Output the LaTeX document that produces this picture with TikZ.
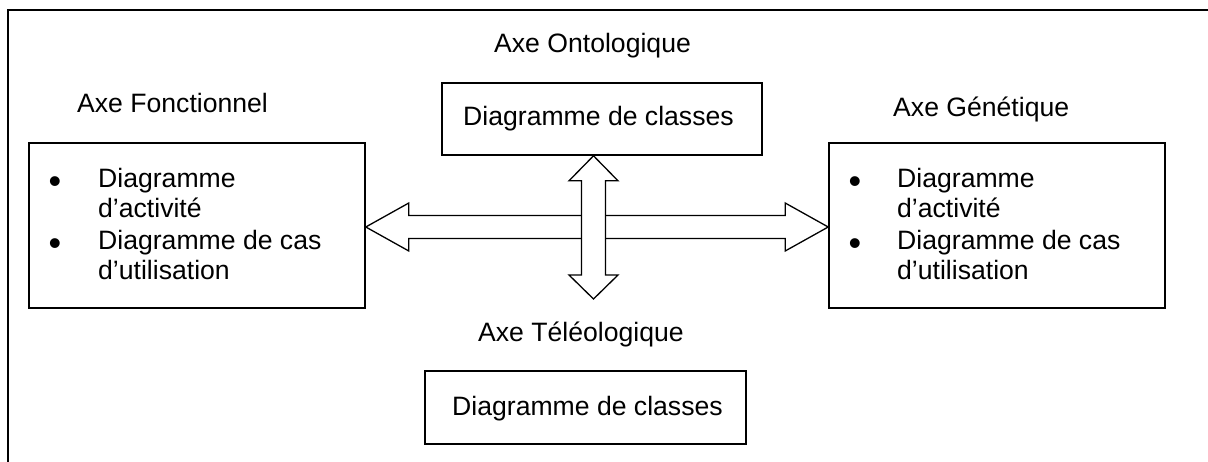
\documentclass[tikz,border=0pt]{standalone}
\usepackage{fontspec}
\setmainfont{Liberation Sans}
\usetikzlibrary{calc}
\begin{document}
\begin{tikzpicture}[x=1pt,y=-1pt,
  box/.style={draw,line width=1.6pt,rectangle,inner sep=0pt},
  txt/.style={font=\fontsize{26.6}{30}\selectfont,inner sep=0pt,anchor=base west},
  bul/.style={font=\fontsize{36}{40}\selectfont,inner sep=0pt,anchor=base},
  blockarrow/.style={draw,fill=white,line width=1.3pt,line join=miter}]
\useasboundingbox (0,0) rectangle (1208,462);
% outer frame
\draw[line width=1.3pt] (8,470) -- (8,10) -- (1215,10);
% boxes
\node[box,minimum width=336pt,minimum height=165pt] (L) at (197,225.5) {};
\node[box,minimum width=336pt,minimum height=165pt] (R) at (997,225.5) {};
\node[box,minimum width=320pt,minimum height=72pt] (T) at (602,119) {};
\node[box,minimum width=321pt,minimum height=73pt] (B) at (585.5,407.5) {};
% titles
\node[txt] (tO) at (494,53) {Axe Ontologique};
\node[txt] (tF) at (77,113) {Axe Fonctionnel};
\node[txt] (tG) at (893,117) {Axe Génétique};
\node[txt] (tT) at (478,342) {Axe Téléologique};
% box texts
\node[txt] (cT) at (463,126) {Diagramme de classes};
\node[txt] (cB) at (452,415) {Diagramme de classes};
% left list
\node[bul] (lb1) at (55,194) {•};
\node[txt] (l1) at (98,188) {Diagramme};
\node[txt] (l2) at (98,218) {d’activité};
\node[bul] (lb2) at (55,256) {•};
\node[txt] (l3) at (98,250) {Diagramme de cas};
\node[txt] (l4) at (98,280) {d’utilisation};
% right list
\node[bul] (rb1) at (855,194) {•};
\node[txt] (r1) at (897,188) {Diagramme};
\node[txt] (r2) at (897,218) {d’activité};
\node[bul] (rb2) at (855,256) {•};
\node[txt] (r3) at (897,250) {Diagramme de cas};
\node[txt] (r4) at (897,280) {d’utilisation};
% horizontal double arrow (from L to R)
\coordinate (hl) at (L.east |- 0,227);
\coordinate (hr) at (R.west |- 0,227);
\draw[blockarrow] (hl) -- ++(43,-24) -- ++(0,12.5) -- ($(hr)+(-43,-11.5)$) -- ++(0,-12.5) -- (hr)
  -- ++(-43,24) -- ++(0,-12.5) -- ($(hl)+(43,11.5)$) -- ++(0,12.5) -- cycle;
% vertical double arrow (from T downwards)
\coordinate (vt) at (593.5,0 |- T.south);
\coordinate (vb) at (593.5,299);
\draw[blockarrow] (vt) -- ++(24.5,25) -- ++(-12.5,0) -- ($(vb)+(12,-24)$) -- ++(12.5,0) -- (vb)
  -- ++(-24.5,-24) -- ++(12.5,0) -- ($(vt)+(-12,25)$) -- ++(-12.5,0) -- cycle;
\end{tikzpicture}
\end{document}
